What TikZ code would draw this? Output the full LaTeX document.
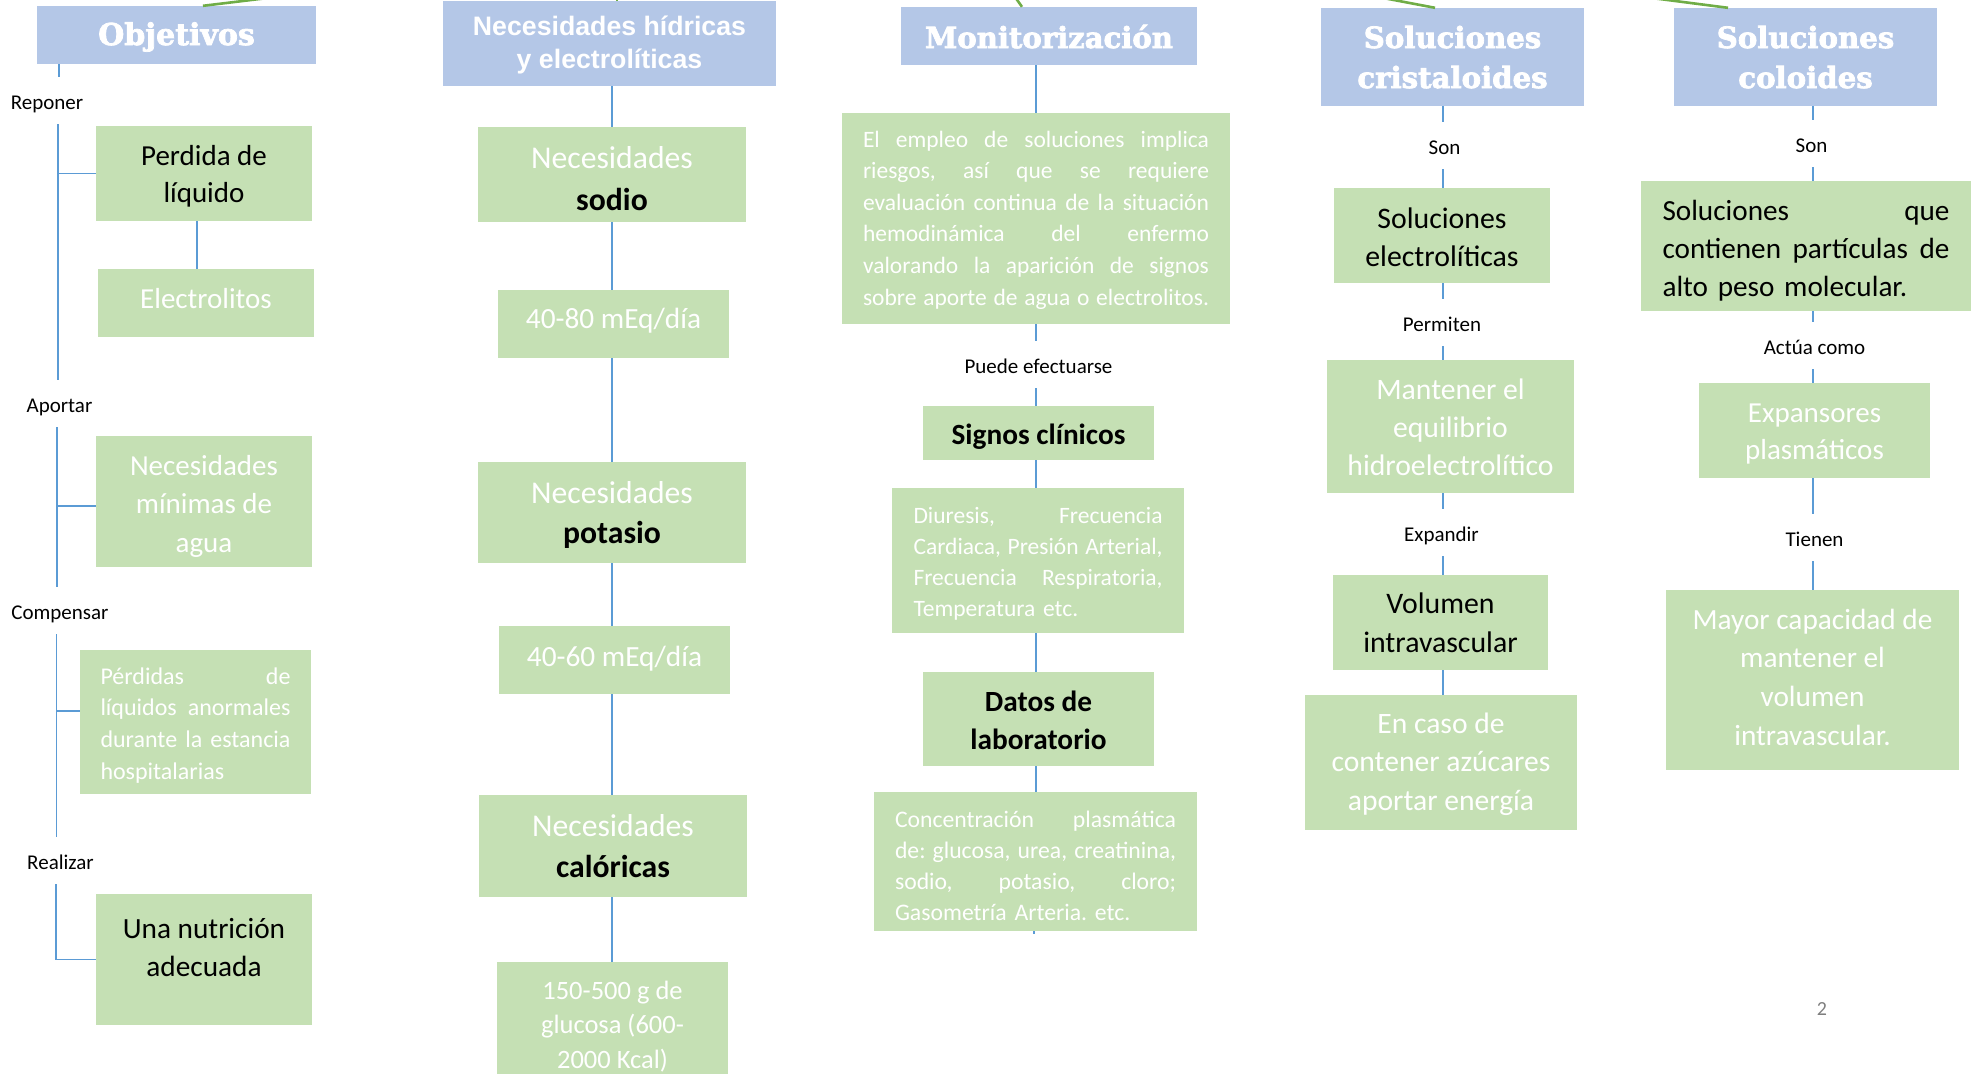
\documentclass[tikz,border=0pt]{standalone}
\usepackage{fontspec}
\setmainfont{Carlito}
\newfontfamily\hfont{DejaVu Serif}[BoldFeatures={FakeBold=2.5}]
\newfontfamily\afont{Liberation Sans}
\frenchspacing
\definecolor{hdrblue}{HTML}{B4C7E7}
\definecolor{boxgreen}{HTML}{C5E0B4}
\definecolor{lineblue}{HTML}{5B9BD5}
\definecolor{linegreen}{HTML}{70AD47}
\definecolor{pgnum}{HTML}{7F7F7F}
\newcommand\fs[2]{\fontsize{#1}{#2}\selectfont}
\newcommand\jl[2]{\makebox[#1pt][s]{\frenchspacing\spaceskip=.24em plus 1fil minus .06em\relax #2}}
% box: name, style, x1, y1, x2, y2, first baseline, text
\newcommand\bx[8]{%
  \pgfmathsetmacro\bxw{#5-#3}%
  \node[#2, minimum width=#5-#3, minimum height=#6-#4] (#1) at ({(#3+#5)/2},{(#4+#6)/2}) {};
  \node[text width=\bxw pt, #2, fill=none, anchor=base] (#1-t) at ({(#3+#5)/2},#7) {#8};}
% label: name, x, baseline, text
\newcommand\lb[4]{\node[lbl] (#1) at (#2,#3) {#4};}
\tikzset{
  hdr/.style={fill=hdrblue, text=white, inner sep=0pt, align=flush center},
  gbx/.style={fill=boxgreen, text=black, inner sep=0pt, align=flush center},
  wt/.style={text=white},
  lbl/.style={inner sep=0pt, anchor=base, text height=32pt, text depth=15pt, text=black, font=\fs{21}{25}},
  conn/.style={draw=lineblue, line width=1.6pt},
  gconn/.style={draw=linegreen, line width=2.6pt},
}
\begin{document}
\begin{tikzpicture}[x=1pt,y=-1pt]
\useasboundingbox (0,0) rectangle (1974,1074);
\fill[white] (0,0) rectangle (1974,1074);

% ---------- headers ----------
\bx{obj}{hdr, font=\hfont\bfseries\fs{30}{36}}{37}{6}{316}{64}{45}{Objetivos}
\bx{hdr2}{hdr, font=\afont\bfseries\fs{26.7}{33}}{443}{1}{776}{86}{35.5}{Necesidades hídricas\\y electrolíticas}
\bx{mon}{hdr, font=\hfont\bfseries\fs{29.1}{35}}{901}{7}{1197}{65}{48}{Monitorización}
\bx{cri}{hdr, font=\hfont\bfseries\fs{29.2}{40}}{1321}{8}{1584}{106}{48}{Soluciones\\cristaloides}
\bx{col}{hdr, font=\hfont\bfseries\fs{29.2}{40}}{1674}{8}{1937}{106}{48}{Soluciones\\coloides}

% ---------- column 1 ----------
\lb{rep}{47}{109}{Reponer}
\lb{apo}{59.5}{412}{Aportar}
\lb{comp}{60}{619}{Compensar}
\lb{real}{60.5}{869}{Realizar}
\bx{perd}{gbx, font=\fs{29}{37.5}}{96}{126}{312}{221}{165}{Perdida de\\líquido}
\bx{elec}{gbx, wt, font=\fs{29}{37.5}}{98}{269}{314}{337}{308}{Electrolitos}
\bx{nma}{gbx, wt, font=\fs{29}{38.5}}{96}{436}{312}{567}{475}{Necesidades\\mínimas de\\agua}
\bx{perdA}{gbx, wt, font=\fs{24}{31.7}, text width=190pt, align=left}{80}{650}{311}{794}{684}{\jl{190}{Pérdidas de}\\\jl{190}{líquidos anormales}\\\jl{190}{durante la estancia}\\\mbox{hospitalarias}}
\bx{nut}{gbx, font=\fs{29.3}{38.5}}{96}{894}{312}{1025}{938}{Una nutrición\\adecuada}

% ---------- column 2 ----------
\bx{sod}{gbx, wt, font=\fs{31.7}{42}}{478}{127}{746}{222}{168}{Necesidades\\\textcolor{black}{\bfseries sodio}}
\bx{ra}{gbx, wt, font=\fs{29.3}{36}}{498}{290}{729}{358}{328}{40-80 mEq/día}
\bx{pot}{gbx, wt, font=\fs{31.7}{40}}{478}{462}{746}{563}{503}{Necesidades\\\textcolor{black}{\bfseries potasio}}
\bx{rb}{gbx, wt, font=\fs{29.3}{36}}{499}{626}{730}{694}{666}{40-60 mEq/día}
\bx{cal}{gbx, wt, font=\fs{31.7}{41}}{479}{795}{747}{897}{836}{Necesidades\\\textcolor{black}{\bfseries calóricas}}
\bx{glu}{gbx, wt, font=\fs{26.5}{34.5}}{497}{962}{728}{1110}{999}{150-500 g de\\glucosa (600-\\2000 Kcal)}

% ---------- column 3 ----------
\bx{emp}{gbx, wt, font=\fs{23.5}{31.6}, text width=346pt, align=left}{842}{113}{1230}{324}{147}{\jl{346}{El empleo de soluciones implica}\\\jl{346}{riesgos, así que se requiere}\\\jl{346}{evaluación continua de la situación}\\\jl{346}{hemodinámica del enfermo}\\\jl{346}{valorando la aparición de signos}\\\jl{346}{sobre aporte de agua o electrolitos.}}
\lb{pe}{1038.5}{373}{Puede efectuarse}
\bx{sig}{gbx, font=\bfseries\fs{29.3}{36}}{923}{406}{1154}{460}{444}{Signos clínicos}
\bx{diu}{gbx, wt, font=\fs{23.5}{31.3}, text width=249pt, align=left}{892}{488}{1184}{633}{523}{\jl{249}{Diuresis, Frecuencia}\\\jl{249}{Cardiaca, Presión Arterial,}\\\jl{249}{Frecuencia Respiratoria,}\\\mbox{Temperatura etc.}}
\bx{dat}{gbx, font=\bfseries\fs{29.3}{38}}{923}{672}{1154}{766}{711}{Datos de\\laboratorio}
\bx{con}{gbx, wt, font=\fs{23.7}{31.3}, text width=281pt, align=left}{874}{792}{1197}{931}{827}{\jl{281}{Concentración plasmática}\\\jl{281}{de: glucosa, urea, creatinina,}\\\jl{281}{sodio, potasio, cloro;}\\\mbox{Gasometría Arteria. etc.}}

% ---------- column 4 ----------
\lb{sona}{1444.5}{154}{Son}
\bx{sel}{gbx, font=\fs{29.8}{38}}{1334}{188}{1550}{283}{228}{Soluciones\\electrolíticas}
\lb{perm}{1442}{331}{Permiten}
\bx{man}{gbx, wt, font=\fs{29.7}{38}}{1327}{360}{1574}{493}{399}{Mantener el\\equilibrio\\hidroelectrolítico}
\lb{expd}{1441.5}{541}{Expandir}
\bx{vol}{gbx, font=\fs{29.8}{39}}{1333}{575}{1548}{670}{613}{Volumen\\intravascular}
\bx{enc}{gbx, wt, font=\fs{29.6}{38.5}}{1305}{695}{1577}{830}{733}{En caso de\\contener azúcares\\aportar energía}

% ---------- column 5 ----------
\lb{sonb}{1811.5}{152}{Son}
\bx{sqc}{gbx, font=\fs{29.2}{38}, text width=287pt, align=left}{1641}{181}{1971}{311}{220}{\jl{287}{Soluciones que}\\\jl{287}{contienen partículas de}\\\mbox{alto peso molecular.}}
\lb{act}{1814.5}{354}{Actúa como}
\bx{exs}{gbx, wt, font=\fs{29}{37}}{1699}{383}{1930}{478}{422}{Expansores\\plasmáticos}
\lb{tie}{1814.5}{546}{Tienen}
\bx{may}{gbx, wt, font=\fs{29.3}{38.7}}{1666}{590}{1959}{770}{629}{Mayor capacidad de\\mantener el\\volumen\\intravascular.}

\node[font=\fs{20}{24}, text=pgnum, inner sep=0pt, anchor=base] (pg) at (1822,1015) {2};

% ---------- connectors ----------
\coordinate (s1) at (59,0);
\coordinate (s2) at (58,0);
\coordinate (s3) at (57,0);
\coordinate (s4) at (56.5,0);
\coordinate (s5) at (56,0);
\coordinate (pq) at (197,0);
\draw[conn] (obj.south -| s1) -- (rep.north -| s1);
\draw[conn] (rep.south -| s2) -- (apo.north -| s2);
\draw[conn] (perd.west) -- (perd.west -| s2);
\draw[conn] (perd.south -| pq) -- (elec.north -| pq);
\draw[conn] (apo.south -| s3) -- (comp.north -| s3);
\draw[conn] ([yshift=-4.5pt]nma.west) -- ([yshift=-4.5pt]nma.west -| s3);
\draw[conn] (comp.south -| s4) -- (real.north -| s4);
\draw[conn] ([yshift=11pt]perdA.west) -- ([yshift=11pt]perdA.west -| s4);
\draw[conn] (real.south -| s5) |- (nut.west);

\coordinate (k2) at (612,0);
\draw[conn] (hdr2.south -| k2) -- (sod.north -| k2);
\draw[conn] (sod.south -| k2) -- (ra.north -| k2);
\draw[conn] (ra.south -| k2) -- (pot.north -| k2);
\draw[conn] (pot.south -| k2) -- (rb.north -| k2);
\draw[conn] (rb.south -| k2) -- (cal.north -| k2);
\draw[conn] (cal.south -| k2) -- (glu.north -| k2);

\coordinate (k3) at (1036,0);
\draw[conn] (mon.south -| k3) -- (emp.north -| k3);
\draw[conn] (emp.south -| k3) -- (pe.north -| k3);
\draw[conn] (pe.south -| k3) -- (sig.north -| k3);
\draw[conn] (sig.south -| k3) -- (diu.north -| k3);
\draw[conn] (diu.south -| k3) -- (dat.north -| k3);
\draw[conn] (dat.south -| k3) -- (con.north -| k3);
\coordinate (stub) at (1034,934);
\draw[conn] (con.south -| stub) -- (stub);

\coordinate (k4) at (1443,0);
\draw[conn] (cri.south -| k4) -- (sona.north -| k4);
\draw[conn] (sona.south -| k4) -- (sel.north -| k4);
\draw[conn] (sel.south -| k4) -- (perm.north -| k4);
\draw[conn] (perm.south -| k4) -- (man.north -| k4);
\draw[conn] (man.south -| k4) -- (expd.north -| k4);
\draw[conn] (expd.south -| k4) -- (vol.north -| k4);
\draw[conn] (vol.south -| k4) -- (enc.north -| k4);

\coordinate (k5) at (1813,0);
\draw[conn] (col.south -| k5) -- (sonb.north -| k5);
\draw[conn] (sonb.south -| k5) -- (sqc.north -| k5);
\draw[conn] (sqc.south -| k5) -- (act.north -| k5);
\draw[conn] (act.south -| k5) -- (exs.north -| k5);
\draw[conn] (exs.south -| k5) -- (tie.north -| k5);
\draw[conn] (tie.south -| k5) -- (may.north -| k5);

% ---------- green links to the (off-page) parent ----------
\coordinate (g1a) at (203,0);
\coordinate (g1b) at (272,-2.5);
\draw[gconn] (obj.north -| g1a) -- (g1b);
\coordinate (g2) at (617,-4);
\draw[gconn] (hdr2.north -| g2) -- (g2);
\coordinate (g3a) at (1022,0);
\coordinate (g3b) at (1015,-3);
\draw[gconn] (mon.north -| g3a) -- (g3b);
\coordinate (g4a) at (1435,0);
\coordinate (g4b) at (1378,-3);
\draw[gconn] (cri.north -| g4a) -- (g4b);
\coordinate (g5a) at (1728,0);
\coordinate (g5b) at (1648,-2.5);
\draw[gconn] (col.north -| g5a) -- (g5b);
\end{tikzpicture}
\end{document}
